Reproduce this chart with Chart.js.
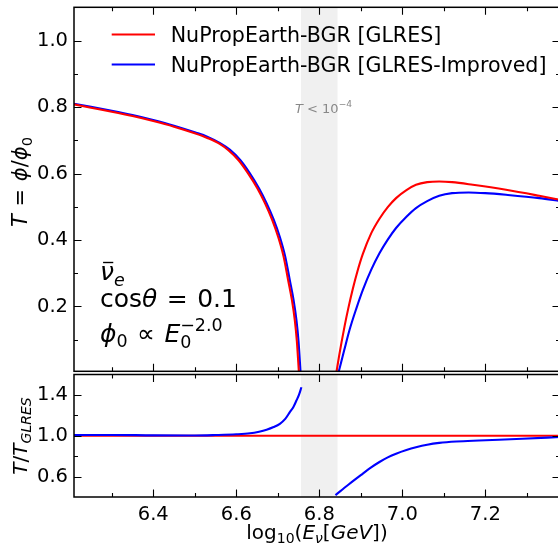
<!DOCTYPE html>
<html>
<head>
<meta charset="utf-8">
<script src="https://cdn.jsdelivr.net/npm/chart.js@4.4.1/dist/chart.umd.min.js"></script>
<style>
  html, body { margin: 0; padding: 0; background: #ffffff; overflow: hidden; }
  #wrap { position: relative; width: 558px; height: 548px; overflow: hidden; background: #fff; }
  canvas { position: absolute; left: 0; }
</style>
</head>
<body>
<div id="wrap">
  <canvas id="top" width="562" height="380" style="top:0px"></canvas>
  <canvas id="bot" width="562" height="188" style="top:360px"></canvas>
</div>
<script>
// ---------------- data ----------------
const E_RED  = [6.209, 6.25, 6.30, 6.35, 6.40, 6.45, 6.50, 6.53, 6.56, 6.581, 6.606, 6.628, 6.651, 6.669, 6.686, 6.701,
                6.714, 6.725, 6.734, 6.741, 6.746, 6.751, 6.80,
                6.841, 6.848, 6.854, 6.861, 6.870, 6.881, 6.892, 6.905, 6.925, 6.945, 6.965, 6.985, 7.01, 7.033, 7.06,
                7.089, 7.12, 7.17, 7.25, 7.33, 7.38];
const T_RED  = [0.808, 0.798, 0.786, 0.773, 0.758, 0.741, 0.721, 0.707, 0.689, 0.670, 0.639, 0.601, 0.555, 0.511, 0.462, 0.409,
                0.350, 0.279, 0.220, 0.159, 0.095, 0.0, null,
                0.0, 0.053, 0.095, 0.141, 0.195, 0.254, 0.306, 0.358, 0.420, 0.464, 0.499, 0.526, 0.550, 0.566, 0.574,
                0.576, 0.574, 0.566, 0.551, 0.533, 0.521];

const E_BLUE = [6.209, 6.25, 6.30, 6.35, 6.40, 6.45, 6.50, 6.53, 6.56, 6.585, 6.61, 6.632, 6.655, 6.673, 6.69, 6.705,
                6.718, 6.729, 6.738, 6.745, 6.750, 6.755, 6.80,
                6.846, 6.86, 6.873, 6.889, 6.905, 6.925, 6.945, 6.965, 6.985, 7.01, 7.033, 7.06, 7.089, 7.12, 7.16,
                7.20, 7.25, 7.33, 7.38];
const T_BLUE = [0.810, 0.801, 0.789, 0.776, 0.761, 0.744, 0.724, 0.711, 0.692, 0.671, 0.640, 0.602, 0.555, 0.511, 0.462, 0.409,
                0.350, 0.279, 0.220, 0.159, 0.095, 0.0, null,
                0.0, 0.068, 0.130, 0.193, 0.250, 0.310, 0.360, 0.401, 0.436, 0.470, 0.496, 0.517, 0.533, 0.541, 0.543,
                0.541, 0.536, 0.526, 0.517];

const E_RATIO_BLUE = [6.209, 6.30, 6.40, 6.50, 6.55, 6.60, 6.633, 6.655, 6.673, 6.69, 6.705, 6.718, 6.729, 6.738, 6.745,
                      6.751, 6.757, 6.80,
                      6.839, 6.87, 6.905, 6.925, 6.945, 6.965, 6.985, 7.01, 7.033, 7.06, 7.089, 7.13, 7.185, 7.289, 7.38];
const R_BLUE = [1.007, 1.008, 1.004, 1.003, 1.007, 1.014, 1.024, 1.040, 1.059, 1.085, 1.117, 1.165, 1.231, 1.285, 1.345,
                1.400, 1.475, null,
                0.418, 0.520, 0.629, 0.690, 0.743, 0.788, 0.824, 0.860, 0.887, 0.912, 0.930, 0.944, 0.954, 0.970, 0.988];
const E_RATIO_RED = [6.209, 7.38];
const R_RED = [1.0, 1.0];

const SHADE_RANGE = [6.756, 6.844];

const X_MAJOR = [6.4, 6.6, 6.8, 7.0, 7.2];
const X_MINOR = [6.3, 6.5, 6.7, 6.9, 7.1, 7.3];
const TOP_Y_MAJOR = [0.2, 0.4, 0.6, 0.8, 1.0];
const TOP_Y_MINOR = [0.1, 0.3, 0.5, 0.7, 0.9];
const BOT_Y_MAJOR = [0.6, 1.0, 1.4];
const BOT_Y_MINOR = [0.8, 1.2];

const LEGEND_LABELS = ['NuPropEarth-BGR [GLRES]', 'NuPropEarth-BGR [GLRES-Improved]'];
const RED = '#ff0000', BLUE = '#0000ff';
const FONT = '"DejaVu Sans", "Liberation Sans", sans-serif';

// ---------------- helpers ----------------
function pts(xs, ys) { return xs.map((x, i) => ({ x: x, y: ys[i] })); }
function fontOf(p, base) { return (p.i ? 'italic ' : '') + ((p.s || 1) * base) + 'px ' + FONT; }
function drawRich(ctx, parts, x, y, base, align, color) {
  let prevStart = 0, cur = 0;
  const xs = [];
  for (const p of parts) {
    ctx.font = fontOf(p, base);
    const pw = ctx.measureText(p.t).width;
    const start = p.same ? prevStart : cur;
    xs.push(start);
    prevStart = start;
    cur = Math.max(cur, start + pw + (p.k || 0) * base);
  }
  const w = cur;
  const x0 = align === 'center' ? x - w / 2 : x;
  ctx.textAlign = 'left';
  ctx.textBaseline = 'alphabetic';
  ctx.fillStyle = color;
  ctx.strokeStyle = color;
  parts.forEach((p, i) => {
    ctx.font = fontOf(p, base);
    const px = x0 + xs[i], py = y + (p.dy || 0) * base;
    ctx.fillText(p.t, px, py);
    if (p.bar) {
      const pw = ctx.measureText(p.t).width;
      ctx.lineWidth = base * 0.055;
      ctx.beginPath();
      ctx.moveTo(px + pw * 0.22, py - base * 0.70);
      ctx.lineTo(px + pw * 0.95, py - base * 0.70);
      ctx.stroke();
    }
  });
}

const framePlugin = {
  id: 'frame',
  beforeDatasetsDraw(chart) {
    const { ctx, chartArea: a, scales } = chart;
    const x0 = scales.x.getPixelForValue(SHADE_RANGE[0]);
    const x1 = scales.x.getPixelForValue(SHADE_RANGE[1]);
    ctx.save();
    ctx.fillStyle = '#f0f0f0';
    ctx.fillRect(x0, a.top, x1 - x0, a.bottom - a.top);
    ctx.restore();
  },
  afterDatasetsDraw(chart, args, opts) {
    const { ctx, chartArea: a, scales } = chart;
    ctx.save();
    ctx.strokeStyle = '#000';
    ctx.lineWidth = 1.1;
    const MAJ = 7.5, MIN = 4;
    ctx.beginPath();
    X_MAJOR.concat(X_MINOR).forEach((v, i) => {
      const L = i < X_MAJOR.length ? MAJ : MIN;
      const px = Math.round(scales.x.getPixelForValue(v)) + 0.5;
      ctx.moveTo(px, a.bottom); ctx.lineTo(px, a.bottom - L);
      ctx.moveTo(px, a.top); ctx.lineTo(px, a.top + L);
    });
    opts.yMajor.concat(opts.yMinor).forEach((v, i) => {
      const L = i < opts.yMajor.length ? MAJ : MIN;
      const py = Math.round(scales.y.getPixelForValue(v)) + 0.5;
      ctx.moveTo(a.left, py); ctx.lineTo(a.left + L, py);
      ctx.moveTo(a.right, py); ctx.lineTo(a.right - L, py);
    });
    ctx.stroke();
    ctx.lineWidth = 1.5;
    ctx.strokeRect(a.left, a.top, a.right - a.left, a.bottom - a.top);
    ctx.restore();
  },
  afterDraw(chart, args, opts) {
    if (opts.extra) opts.extra(chart);
  }
};

function yAxis(min, max, major) {
  return {
    type: 'linear', min: min, max: max,
    grid: { display: false, drawTicks: false }, border: { display: false },
    ticks: { color: '#000', padding: 6, font: { family: FONT, size: 19.5 },
             callback: v => Number(v).toFixed(1) },
    afterBuildTicks: s => { s.ticks = major.map(v => ({ value: v })); },
    afterFit: s => { s.width = 74; s.paddingTop = 0; s.paddingBottom = 0; }
  };
}

const common = {
  responsive: false, animation: false, devicePixelRatio: 1,
  events: [],
  elements: { point: { radius: 0 }, line: { borderWidth: 2.1, cubicInterpolationMode: 'monotone' } },
  spanGaps: false
};

// ---------------- top panel ----------------
new Chart(document.getElementById('top'), {
  type: 'line',
  data: {
    datasets: [
      { label: LEGEND_LABELS[0], data: pts(E_RED, T_RED), borderColor: RED, backgroundColor: RED, fill: false },
      { label: LEGEND_LABELS[1], data: pts(E_BLUE, T_BLUE), borderColor: BLUE, backgroundColor: BLUE, fill: false }
    ]
  },
  options: Object.assign({}, common, {
    layout: { padding: { left: 0, right: 2, top: 7.3, bottom: 8.7 } },
    scales: {
      x: { type: 'linear', min: 6.209, max: 7.38,
           grid: { display: false, drawTicks: false }, border: { display: false },
           ticks: { display: false },
           afterFit: s => { s.height = 0; s.paddingLeft = 0; s.paddingRight = 0; } },
      y: yAxis(0.005, 1.1, TOP_Y_MAJOR)
    },
    plugins: {
      legend: { display: false }, tooltip: { enabled: false },
      frame: {
        yMajor: TOP_Y_MAJOR, yMinor: TOP_Y_MINOR,
        extra: chart => {
          const ctx = chart.ctx;
          ctx.save();
          // legend
          [[RED, 34.5, 42], [BLUE, 64.5, 72]].forEach((r, i) => {
            ctx.strokeStyle = r[0]; ctx.lineWidth = 2;
            ctx.beginPath(); ctx.moveTo(111.7, r[1]); ctx.lineTo(155, r[1]); ctx.stroke();
            ctx.fillStyle = '#000'; ctx.font = '20.6px ' + FONT;
            ctx.textAlign = 'left'; ctx.textBaseline = 'alphabetic';
            ctx.fillText(LEGEND_LABELS[i], 170.7, r[2]);
          });
          // T < 10^-4
          drawRich(ctx, [{ t: 'T', i: 1 }, { t: ' < ' }, { t: '10' }, { t: '\u22124', s: 0.7, dy: -0.42 }],
                   295, 112.5, 13, 'left', '#888888');
          // annotation
          drawRich(ctx, [{ t: '\u03bd', i: 1, bar: 1 }, { t: 'e', i: 1, s: 0.7, dy: 0.22 }], 100, 280, 25, 'left', '#000');
          drawRich(ctx, [{ t: 'cos' }, { t: '\u03b8', i: 1, k: 0.06 }, { t: ' = ', k: 0.06 }, { t: '0.1' }], 100, 306.5, 25, 'left', '#000');
          drawRich(ctx, [{ t: '\u03d5', i: 1 }, { t: '0', s: 0.7, dy: 0.22, k: 0.06 }, { t: ' \u221d ', k: 0.06 }, { t: 'E', i: 1 },
                         { t: '0', s: 0.7, dy: 0.25 }, { t: '\u22122.0', s: 0.7, dy: -0.42, same: 1 }],
                   100, 341.5, 25, 'left', '#000');
          // y label
          ctx.translate(27, 182);
          ctx.rotate(-Math.PI / 2);
          drawRich(ctx, [{ t: 'T', i: 1, k: 0.05 }, { t: ' = ', k: 0.05 }, { t: '\u03d5', i: 1 }, { t: '/' }, { t: '\u03d5', i: 1 },
                         { t: '0', s: 0.7, dy: 0.22 }], 0, 0, 21, 'center', '#000');
          ctx.restore();
        }
      }
    }
  }),
  plugins: [framePlugin]
});

// ---------------- bottom panel ----------------
new Chart(document.getElementById('bot'), {
  type: 'line',
  data: {
    datasets: [
      { label: 'ratio improved', data: pts(E_RATIO_BLUE, R_BLUE), borderColor: BLUE, backgroundColor: BLUE, fill: false },
      { label: 'ratio GLRES', data: pts(E_RATIO_RED, R_RED), borderColor: RED, backgroundColor: RED, fill: false }
    ]
  },
  options: Object.assign({}, common, {
    layout: { padding: { left: 0, right: 2, top: 14.5, bottom: 0 } },
    scales: {
      x: { type: 'linear', min: 6.209, max: 7.38,
           grid: { display: false, drawTicks: false }, border: { display: false },
           ticks: { color: '#000', padding: 6, font: { family: FONT, size: 19.5 }, maxRotation: 0,
                    callback: v => Number(v).toFixed(1) },
           afterBuildTicks: s => { s.ticks = X_MAJOR.map(v => ({ value: v })); },
           afterFit: s => { s.height = 51; s.paddingLeft = 0; s.paddingRight = 0; } },
      y: yAxis(0.4, 1.6, BOT_Y_MAJOR)
    },
    plugins: {
      legend: { display: false }, tooltip: { enabled: false },
      frame: {
        yMajor: BOT_Y_MAJOR, yMinor: BOT_Y_MINOR,
        extra: chart => {
          const ctx = chart.ctx;
          ctx.save();
          drawRich(ctx, [{ t: 'log' }, { t: '10', s: 0.7, dy: 0.22 }, { t: '(' }, { t: 'E', i: 1 },
                         { t: '\u03bd', i: 1, s: 0.7, dy: 0.22 }, { t: '[' }, { t: 'GeV', i: 1 }, { t: '])' }],
                   317, 179, 20, 'center', '#000');
          ctx.translate(27, 76);
          ctx.rotate(-Math.PI / 2);
          drawRich(ctx, [{ t: 'T', i: 1 }, { t: '/' }, { t: 'T', i: 1 }, { t: 'GLRES', i: 1, s: 0.7, dy: 0.22 }],
                   0, 0, 20, 'center', '#000');
          ctx.restore();
        }
      }
    }
  }),
  plugins: [framePlugin]
});
</script>
</body>
</html>
